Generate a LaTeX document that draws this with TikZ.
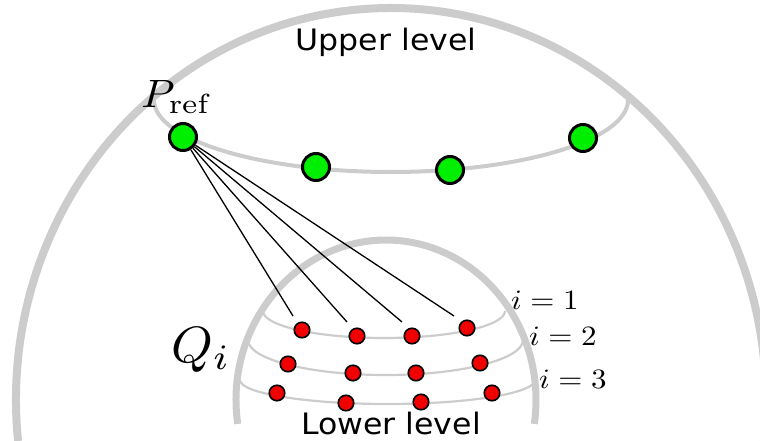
\documentclass[tikz,border=0pt]{standalone}
\usepackage{fontspec}
\newfontfamily\labelfont{DejaVu Sans}
\definecolor{lgray}{RGB}{204,204,204}
\definecolor{dotgreen}{RGB}{0,238,0}
\definecolor{dotred}{RGB}{240,0,0}
\begin{document}
\begin{tikzpicture}[x=1pt,y=-1pt,
  bigarc/.style={draw=lgray,line width=8pt},
  domearc/.style={draw=lgray,line width=7pt},
  ringarc/.style={draw=lgray,line width=4pt},
  latarc/.style={draw=lgray,line width=2.2pt},
  gdot/.style={circle,fill=dotgreen,draw=black,line width=3pt,minimum size=27pt,inner sep=0pt},
  rdot/.style={circle,fill=dotred,draw=black,line width=1.6pt,minimum size=15.5pt,inner sep=0pt},
  ray/.style={draw=black,line width=1.3pt},
  levellabel/.style={inner sep=0pt,anchor=base,font=\labelfont\fontsize{29.5}{36}\selectfont},
  mathlabel/.style={inner sep=0pt,anchor=base west}]
\useasboundingbox (0,0) rectangle (760,441);
\clip (0,0) rectangle (760,441);
% outer level
\draw[bigarc] (391,400) ++(186:375pt and 392pt) arc[start angle=186,end angle=-6,x radius=375pt,y radius=392pt];
% upper ring
\draw[ringarc] (154,100) arc[start angle=180,end angle=360,x radius=237pt,y radius=72pt];
% inner dome
\draw[domearc] (386,400) ++(188.6:150pt and 160pt) arc[start angle=188.6,end angle=-8.6,x radius=150pt,y radius=160pt];
% latitude lines
\draw[latarc] (263,311) arc[start angle=180,end angle=360,x radius=121pt,y radius=27pt];
\draw[latarc] (248,340) arc[start angle=180,end angle=360,x radius=137.5pt,y radius=35pt];
\draw[latarc] (240,380) arc[start angle=180,end angle=360,x radius=147.5pt,y radius=24pt];
% green dots
\node[gdot] (g1) at (183,137) {};
\node[gdot] (g2) at (316,167) {};
\node[gdot] (g3) at (450,170) {};
\node[gdot] (g4) at (583,138) {};
% ray ends
\coordinate (e1) at (293,316);
\coordinate (e2) at (347,322);
\coordinate (e3) at (402,322);
\coordinate (e4) at (454,316);
\draw[ray] (g1) -- (e1);
\draw[ray] (g1) -- (e2);
\draw[ray] (g1) -- (e3);
\draw[ray] (g1) -- (e4);
% red dots
\node[rdot] (r11) at (302,330) {};
\node[rdot] (r12) at (357,336) {};
\node[rdot] (r13) at (412,336) {};
\node[rdot] (r14) at (467,328) {};
\node[rdot] (r21) at (288,364) {};
\node[rdot] (r22) at (353,373) {};
\node[rdot] (r23) at (416,373) {};
\node[rdot] (r24) at (480,363) {};
\node[rdot] (r31) at (277,393) {};
\node[rdot] (r32) at (346,403) {};
\node[rdot] (r33) at (421,402) {};
\node[rdot] (r34) at (492,393) {};
% labels
\node[levellabel] (up) at (386,51) {\scalebox{1.07}[1]{Upper level}};
\node[levellabel] (low) at (391,434) {\scalebox{1.07}[1]{Lower level}};
\node[mathlabel] (pref) at (141,108) {\scalebox{4.3}[3.95]{$P_{\mathrm{ref}}$}};
\node[mathlabel] (qi) at (171,362) {\scalebox{5.3}[5.1]{$Q_i$}};
\node[mathlabel] (i1) at (511,309) {\scalebox{3.1}[2.8]{$i=1$}};
\node[mathlabel] (i2) at (529,345) {\scalebox{3.1}[2.8]{$i=2$}};
\node[mathlabel] (i3) at (539,388) {\scalebox{3.1}[2.8]{$i=3$}};
\end{tikzpicture}
\end{document}
